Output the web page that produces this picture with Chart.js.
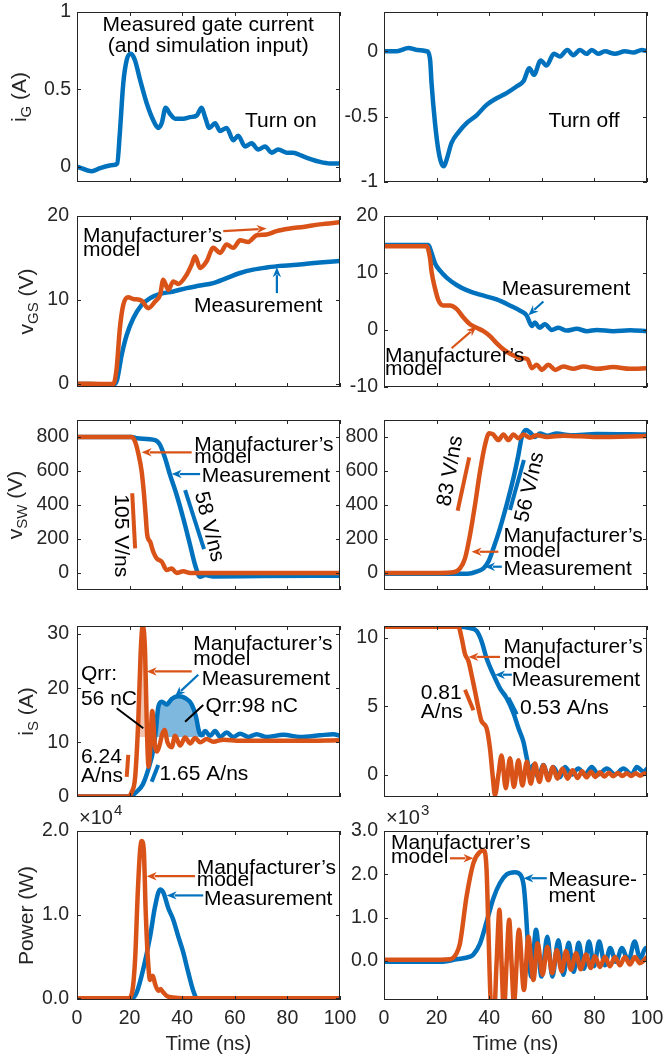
<!DOCTYPE html>
<html><head><meta charset="utf-8">
<script src="https://cdn.jsdelivr.net/npm/chart.js@4/dist/chart.umd.min.js"></script>
<style>
html,body{margin:0;padding:0;background:#fff;width:665px;height:1057px;overflow:hidden;position:relative}
canvas{position:absolute;left:-50px;top:-50px}
</style></head><body>
<script>
// ---------------- DATA (time in ns) ----------------
const X_TICKS = [0, 20, 40, 60, 80, 100];

// Row 1: gate current
const t_iG_on = [0, 5.6, 8.8, 13.8, 15.3, 16.3, 17.6, 18.9, 20.5, 22, 24, 26.5, 29, 30.9, 32.2, 33.7, 35.4, 37.3, 40.4, 43, 45.5, 47.4, 48.7, 50.3, 52.5, 54.4, 56.9, 59.4, 61.3, 63.9, 66.4, 68.9, 71.5, 74, 76.5, 79.7, 82.2, 85.4, 88.6, 92.4, 96.2, 100];
const iG_on = [0, -0.03, -0.01, 0.01, 0.02, 0.22, 0.54, 0.69, 0.73, 0.69, 0.56, 0.41, 0.30, 0.25, 0.28, 0.38, 0.34, 0.31, 0.31, 0.32, 0.33, 0.38, 0.32, 0.25, 0.28, 0.23, 0.25, 0.17, 0.20, 0.13, 0.15, 0.11, 0.13, 0.09, 0.11, 0.09, 0.09, 0.07, 0.05, 0.03, 0.02, 0.02];
const t_iG_off = [0, 4.9, 9.3, 12.5, 16.2, 17.5, 18.1, 19.4, 20.7, 21.9, 22.8, 23.8, 25.7, 28.3, 31.4, 35.2, 39, 42.8, 46.6, 50.4, 53, 55.3, 57, 59.6, 61.8, 64.6, 66.9, 69.7, 72, 74.5, 77, 79, 81.5, 84, 87.8, 91.6, 94.8, 98, 100];
const iG_off = [0, 0, 0.025, 0.01, 0, -0.06, -0.25, -0.55, -0.76, -0.86, -0.88, -0.83, -0.70, -0.62, -0.55, -0.49, -0.41, -0.36, -0.32, -0.27, -0.23, -0.13, -0.18, -0.07, -0.11, -0.02, -0.04, 0.01, -0.03, 0.01, -0.02, 0.01, -0.02, 0, -0.02, 0, -0.01, 0.01, 0];

// Row 2: gate-source voltage
const t_vGS_on_meas = [0, 13.8, 15.1, 17, 18.9, 21.4, 24.6, 27.8, 31.6, 36.6, 41.7, 46.8, 51.8, 56.9, 62, 67, 72.1, 77.2, 82.2, 87.3, 92.3, 100];
const vGS_on_meas = [0, -0.1, 0.3, 3.45, 5.8, 7.8, 9.4, 10.2, 10.7, 11.0, 11.4, 11.7, 12.0, 12.6, 13.2, 13.6, 13.85, 14.05, 14.15, 14.3, 14.45, 14.64];
const t_vGS_on_model = [0, 13.8, 15.1, 16.3, 17.6, 19.5, 21.4, 24.6, 27.1, 29.7, 31.6, 32.8, 34.7, 36.6, 38.5, 41.7, 43.6, 44.9, 46.8, 49.3, 51.8, 54.4, 56.9, 59.4, 62, 65.1, 68.3, 72.1, 75.9, 81, 86, 92.3, 100];
const vGS_on_model = [0, -0.05, 1.9, 6.6, 9.4, 10.3, 10.1, 9.9, 9.0, 9.8, 10.6, 12.4, 11.2, 12.2, 11.9, 13.0, 14.2, 15.2, 13.8, 14.6, 16.2, 15.6, 16.6, 16.2, 17.1, 16.9, 17.7, 17.8, 18.2, 18.5, 18.7, 19.0, 19.25];
const t_vGS_off_meas = [0, 16.9, 18.1, 19.4, 21.3, 23.8, 27.6, 31.4, 36.5, 42.8, 47.9, 51.7, 54.3, 56.2, 57.4, 59.1, 61.2, 63.8, 66.3, 69.5, 73.3, 77.1, 80.9, 87.2, 93.6, 100];
const vGS_off_meas = [14.9, 14.9, 13.5, 11.7, 10.4, 9.2, 7.9, 7.0, 6.2, 5.36, 4.3, 3.4, 2.5, 0.7, 1.3, 0.4, 1.0, 0.0, 0.4, -0.1, 0.2, -0.2, 0.0, -0.2, -0.05, -0.2];
const t_vGS_off_model = [0, 16.2, 17.5, 18.1, 19.4, 20.7, 22.5, 25.1, 27.6, 30.2, 32.7, 35.2, 37.8, 40.3, 42.8, 45.4, 48.5, 51.7, 54.5, 56.2, 58.1, 60, 62.5, 65.1, 68.2, 72, 75.8, 80.9, 87.2, 93.6, 100];
const vGS_off_model = [14.7, 14.7, 12.6, 10.2, 7.3, 5.2, 4.3, 4.3, 3.7, 2.2, 1.0, 0.4, -0.2, -1.07, -2.3, -3.4, -4.3, -4.9, -5.1, -6.7, -6.1, -7.0, -6.1, -7.0, -6.4, -6.8, -6.4, -6.8, -6.5, -6.8, -6.7];

// Row 3: switch-node voltage
const t_vSW_on_meas = [0, 20.8, 22.9, 29.7, 31.6, 33.5, 35.4, 37.9, 40.4, 43, 44.9, 46.8, 48.7, 51.8, 70, 100];
const vSW_on_meas = [800, 800, 792, 782, 753, 675, 576, 459, 322, 165, 47, -22, -12, -20, -18, -16];
const t_vSW_on_model = [0, 20.8, 22.1, 23.3, 24.6, 25.5, 26.1, 26.7, 27.8, 29, 30.3, 32.2, 34.1, 36, 37.9, 40.4, 43, 100];
const vSW_on_model = [800, 800, 772, 704, 596, 459, 341, 224, 184, 125, 86, 67, 18, 27, 0, 10, 0, 0];
const t_vSW_off_meas = [0, 31.9, 35.2, 37.8, 39.7, 41.6, 44.1, 46.6, 49.2, 51.1, 52.4, 54, 55.5, 57.4, 59.3, 61.9, 65.7, 70.8, 80.9, 100];
const vSW_off_meas = [-4, -4, 8, 27, 67, 145, 263, 400, 557, 694, 800, 841, 827, 800, 820, 808, 820, 810, 818, 814];
const t_vSW_off_model = [0, 21.3, 26.4, 28.9, 30.8, 32.7, 34.6, 36.5, 38.4, 40, 41.5, 43.5, 45.4, 47.3, 49.2, 51.1, 53, 55.5, 58.1, 61.9, 68.2, 80.9, 100];
const vSW_off_model = [0, 0, 4, 27, 86, 224, 400, 596, 753, 822, 815, 782, 815, 782, 815, 792, 815, 796, 810, 800, 808, 800, 806];

// Row 4: source current
const t_iS_on_meas = [0, 19, 21, 23, 25, 27.1, 29, 30, 30.9, 32.2, 34.1, 36, 38.5, 41.1, 43.6, 45.2, 46.5, 47.4, 48.7, 50.6, 52.5, 54.4, 56.9, 59.5, 62, 65.2, 68.3, 72.1, 78.5, 84.8, 92.4, 97.5, 100];
const iS_on_meas = [0, 0, 0.2, 1.0, 2.2, 5.0, 8.6, 12.3, 16.5, 17.5, 17.0, 18.0, 18.5, 18.2, 17.0, 14.8, 11.8, 11.3, 12.1, 11.2, 12.1, 11.0, 11.8, 11.0, 11.6, 11.0, 11.5, 11.0, 11.4, 11.0, 11.3, 11.5, 11.2];
const t_iS_on_model = [0, 19.5, 20.8, 22.1, 23.3, 24.2, 25, 25.9, 26.5, 27.2, 27.8, 28.6, 29.6, 30.4, 31.4, 32.4, 33.3, 34.4, 36, 37.3, 39.2, 41.1, 43, 44.9, 46.8, 49.3, 51.8, 55.6, 62, 72, 85, 100];
const iS_on_model = [0, 0, 0.8, 3.5, 14, 26.5, 31.6, 26.5, 14, 5.5, 8.5, 15.8, 9.5, 8.3, 9.5, 11.5, 12.3, 10.0, 9.1, 11.2, 9.4, 10.9, 9.8, 10.8, 10.0, 10.6, 10.1, 10.5, 10.3, 10.3, 10.3, 10.4];
const t_iS_off_meas = [0, 27.6, 32.7, 35.2, 37.1, 39, 41.6, 44.1, 46.6, 49.2, 51.1, 53, 54.3, 55.5, 56.8, 58.7, 60.6, 62.5, 64.4, 66.9, 68.8, 71.3, 73.9, 76.4, 79, 81.5, 84.7, 87.9, 91, 94.2, 96.1, 98.7, 100];
const iS_off_meas = [10.8, 10.8, 10.7, 10.5, 9.75, 8.5, 7.3, 6.3, 5.6, 4.5, 3.4, 2.4, 1.2, 0.2, 0.7, -0.2, 0.7, -0.2, 0.56, -0.2, 0.56, 0, 0.44, 0, 0.56, 0, 0.44, 0, 0.44, 0, 0.56, 0.2, 0.44];
const t_iS_off_model = [0, 28.3, 29.5, 30.8, 32.1, 33.3, 34.6, 35.9, 37.1, 39, 40.3, 41.3, 42.2, 43.5, 44.7, 46.3, 47.9, 49.4, 51.1, 52.6, 54.3, 55.8, 57.4, 59.1, 60.6, 62.5, 64.2, 65.9, 67.9, 69.8, 71.7, 73.6, 75.3, 77, 78.7, 80.4, 82.1, 83.8, 85.5, 87.2, 88.9, 90.6, 92.3, 94, 95.7, 97.4, 99.1, 100];
const iS_off_model = [10.8, 10.8, 10.0, 8.8, 8.3, 7.3, 6.1, 4.85, 3.9, 3.4, 1.9, -0.05, -1.5, 0, 1.4, -1.0, 1.2, -0.9, 1.05, -0.8, 0.93, -0.66, 0.8, -0.54, 0.69, -0.42, 0.56, -0.3, 0.44, -0.3, 0.32, -0.25, 0.25, -0.2, 0.2, -0.18, 0.17, -0.15, 0.14, -0.13, 0.12, -0.11, 0.1, -0.1, 0.09, -0.08, 0.07, 0.02];

// Row 5: power (x1e4 W turn-on, x1e3 W turn-off)
const t_P_on_meas = [0, 20.8, 22.7, 25.2, 27.8, 29.7, 31.6, 32.9, 34.7, 36.6, 38.5, 40.4, 42.3, 44.2, 45.7, 46.8, 49.3, 60, 100];
const P_on_meas = [0, 0, 0.07, 0.35, 0.74, 1.1, 1.3, 1.26, 1.08, 0.94, 0.74, 0.55, 0.31, 0.09, -0.02, -0.04, -0.02, -0.01, -0.01];
const t_P_on_model = [0, 19.5, 20.8, 22.1, 23.1, 24, 24.6, 25.4, 26.1, 26.9, 27.8, 28.8, 29.7, 30.9, 31.8, 32.6, 34.1, 36.6, 40, 100];
const P_on_model = [0, 0, 0.05, 0.47, 1.26, 1.77, 1.88, 1.77, 1.06, 0.5, 0.22, 0.27, 0.17, 0.09, 0.11, 0.08, 0.03, 0.01, 0, 0];
const t_P_off_meas = [0, 21.3, 27.6, 32.7, 34, 36.5, 39, 41.6, 44.1, 46.7, 49.8, 52, 53.2, 54, 54.6, 55.5, 56, 57.8, 59.9, 62.1, 64, 66.3, 68.2, 70.2, 72.1, 74, 76, 77.9, 79.9, 81.8, 84, 86, 88.2, 90.5, 92.9, 95.3, 97.4, 99.5, 100];
const P_off_meas = [-0.02, -0.02, 0.04, 0.1, 0.15, 0.4, 0.9, 1.45, 1.8, 2.0, 2.05, 1.98, 1.7, 1.1, 0.48, -0.2, -0.36, 0.72, -0.36, 0.56, -0.36, 0.48, -0.32, 0.42, -0.25, 0.42, -0.18, 0.45, -0.12, 0.45, -0.1, 0.3, -0.02, 0.3, 0.0, 0.45, 0.05, 0.3, 0.28];
const t_P_off_model = [0, 21.3, 25.1, 27.6, 28.9, 31.4, 34, 36.5, 38, 39, 39.7, 40.6, 41.8, 42.8, 43.9, 44.7, 45.6, 46.6, 47.6, 48.5, 49.4, 51.3, 53.2, 54.9, 56.8, 58.4, 60.3, 62.1, 64, 65.7, 67.6, 69.2, 71.1, 73, 74.8, 76.8, 78.6, 80.2, 82.1, 84, 85.9, 87.8, 89.7, 91.6, 93.5, 95.4, 97.3, 100];
const P_off_model = [0.03, 0.03, 0.04, 0.18, 0.41, 1.49, 2.26, 2.52, 2.55, 2.1, 0.72, -0.97, -1.3, -0.05, 1.18, -0.05, -1.2, -0.05, 0.95, -0.05, -0.97, 0.72, -0.67, 0.56, -0.44, 0.41, -0.32, 0.33, -0.28, 0.25, -0.24, 0.23, -0.2, 0.18, -0.19, 0.15, -0.16, 0.11, -0.14, 0.1, -0.12, 0.09, -0.1, 0.09, -0.08, 0.09, -0.05, 0.09];

// Tick values
const yTicks_iG_on = [0, 0.5, 1];
const yTicks_iG_off = [-1, -0.5, 0];
const yTicks_vGS_on = [0, 10, 20];
const yTicks_vGS_off = [-10, 0, 10, 20];
const yTicks_vSW = [0, 200, 400, 600, 800];
const yTicks_iS_on = [0, 10, 20, 30];
const yTicks_iS_off = [0, 5, 10];
const yTicks_P_on = [0, 1, 2];
const yTicks_P_off = [0, 1, 2, 3];

// ---------------- STYLE / LAYOUT ----------------
const CW = 765, CH = 1157, OFF = 50, YW = 60, TL = 4;
const FONT = "'Liberation Sans', Arial, Helvetica, sans-serif";
const BLUE = '#0072BD', ORANGE = '#D95319', AXIS = '#262626', TXT = '#000';
const COL_L = [77, 340], COL_R = [384, 647];
const ROWS = [[12, 182], [216, 387], [420, 590], [626, 797], [831, 1000]];
const MANU = 'Manufacturer\u2019s';
const plain = v => String(v);
const one = v => v.toFixed(1);

function pts(t, v) { return t.map((x, i) => ({x: x, y: v[i]})); }

const panels = [
  {col: COL_L, row: 0, ymin: -0.1, ymax: 1, yticks: yTicks_iG_on, fmt: plain, ypad: 6,
   series: [{t: t_iG_on, v: iG_on, c: BLUE}],
   ytitle: {parts: [{s: 'i'}, {s: 'G', sub: 1}, {s: ' (A)'}], d: 51},
   ann: {texts: [{t: 49.9, v: 0.88, s: 'Measured gate current', align: 'center'},
                 {t: 49.9, v: 0.744, s: '(and simulation input)', align: 'center'},
                 {t: 63.9, v: 0.256, s: 'Turn on'}]}},
  {col: COL_R, row: 0, ymin: -1, ymax: 0.3, yticks: yTicks_iG_off, fmt: plain, ypad: 6,
   series: [{t: t_iG_off, v: iG_off, c: BLUE}],
   ann: {texts: [{t: 62.5, v: -0.58, s: 'Turn off'}]}},
  {col: COL_L, row: 1, ymin: -0.4, ymax: 20, yticks: yTicks_vGS_on, fmt: plain, ypad: 8,
   series: [{t: t_vGS_on_model, v: vGS_on_model, c: ORANGE}, {t: t_vGS_on_meas, v: vGS_on_meas, c: BLUE}],
   ytitle: {parts: [{s: 'v'}, {s: 'GS', sub: 1}, {s: ' (V)'}], d: 44},
   ann: {texts: [{t: 2.3, v: 16.9, s: MANU}, {t: 2.3, v: 15.2, s: 'model'}, {t: 44.5, v: 8.6, s: 'Measurement'}],
         arrows: [{a: [55.6, 18.2], b: [72.1, 18.5], c: ORANGE}, {a: [76, 10.8], b: [76, 13.9], c: BLUE}]}},
  {col: COL_R, row: 1, ymin: -10, ymax: 20, yticks: yTicks_vGS_off, fmt: plain, ypad: 6,
   series: [{t: t_vGS_off_model, v: vGS_off_model, c: ORANGE}, {t: t_vGS_off_meas, v: vGS_off_meas, c: BLUE}],
   ann: {texts: [{t: 44.8, v: 6.1, s: 'Measurement'}, {t: 0.4, v: -5.6, s: MANU}, {t: 0.4, v: -7.9, s: 'model'}],
         arrows: [{a: [60.6, 5.0], b: [54.9, 2.6], c: BLUE}, {a: [25.7, -3.2], b: [35.2, 0.6], c: ORANGE}]}},
  {col: COL_L, row: 2, ymin: -100, ymax: 900, yticks: yTicks_vSW, fmt: plain, ypad: 8,
   series: [{t: t_vSW_on_model, v: vSW_on_model, c: ORANGE}, {t: t_vSW_on_meas, v: vSW_on_meas, c: BLUE}],
   ytitle: {parts: [{s: 'v'}, {s: 'SW', sub: 1}, {s: ' (V)'}], d: 55},
   ann: {texts: [{t: 44.6, v: 718, s: MANU}, {t: 44.6, v: 645, s: 'model'}, {t: 47.4, v: 534, s: 'Measurement'},
                 {t: 16.6, v: 219, s: '105 V/ns', rot: 90}, {t: 50.2, v: 272, s: '58 V/ns', rot: 76}],
         arrows: [{a: [43.6, 710], b: [24.6, 710], c: ORANGE}, {a: [46.8, 582], b: [36, 582], c: BLUE}],
         segs: [{a: [21, 469], b: [22.1, 145], c: ORANGE}, {a: [41.1, 488], b: [48.3, 141], c: BLUE}]}},
  {col: COL_R, row: 2, ymin: -100, ymax: 900, yticks: yTicks_vSW, fmt: plain, ypad: 6,
   series: [{t: t_vSW_off_model, v: vSW_off_model, c: ORANGE}, {t: t_vSW_off_meas, v: vSW_off_meas, c: BLUE}],
   ann: {texts: [{t: 25.3, v: 600, s: '83 V/ns', rot: -80}, {t: 55.5, v: 505, s: '56 V/ns', rot: -77},
                 {t: 45.4, v: 184, s: MANU}, {t: 45.4, v: 96, s: 'model'}, {t: 45.4, v: -12, s: 'Measurement'}],
         arrows: [{a: [43.5, 125], b: [33.3, 125], c: ORANGE}, {a: [44.8, 37], b: [38.4, 37], c: BLUE}],
         segs: [{a: [28, 366], b: [32.4, 680], c: ORANGE}, {a: [47.9, 371], b: [53.2, 665], c: BLUE}]}},
  {col: COL_L, row: 3, ymin: -0.1, ymax: 31.5, yticks: yTicks_iS_on, fmt: plain, ypad: 8,
   series: [{t: t_iS_on_model, v: iS_on_model, c: ORANGE}, {t: t_iS_on_meas, v: iS_on_meas, c: BLUE}],
   fills: [{t: t_iS_on_model, v: iS_on_model, range: [22.1, 36], base: 11, color: 'rgba(217,83,25,0.35)'},
           {t: t_iS_on_meas, v: iS_on_meas, range: [29, 48.7], base: 11, color: 'rgba(0,114,189,0.5)'}],
   ytitle: {parts: [{s: 'i'}, {s: 'S', sub: 1}, {s: ' (A)'}], d: 44},
   ann: {texts: [{t: 44.2, v: 27.1, s: MANU}, {t: 44.2, v: 24.3, s: 'model'}, {t: 47.4, v: 20.6, s: 'Measurement'},
                 {t: 48.9, v: 15.6, s: 'Qrr:98 nC'}, {t: 1.5, v: 21.5, s: 'Qrr:'}, {t: 1.5, v: 16.9, s: '56 nC'},
                 {t: 1.5, v: 6.1, s: '6.24'}, {t: 1.5, v: 2.7, s: 'A/ns'}, {t: 31.4, v: 3.1, s: '1.65 A/ns'}],
         arrows: [{a: [43.6, 23.1], b: [26.5, 23.1], c: ORANGE}, {a: [46.1, 22.5], b: [37.3, 18.5], c: BLUE}],
         segs: [{a: [48, 16.9], b: [41.1, 13.8], c: TXT, w: 2}, {a: [15.1, 16.3], b: [25.2, 12.6], c: TXT, w: 2},
                {a: [19.5, 7.7], b: [18.9, 3.6], c: ORANGE}, {a: [30.9, 5.8], b: [28.4, 2.7], c: BLUE}]}},
  {col: COL_R, row: 3, ymin: -1.64, ymax: 10.86, yticks: yTicks_iS_off, fmt: plain, ypad: 6,
   series: [{t: t_iS_off_model, v: iS_off_model, c: ORANGE}, {t: t_iS_off_meas, v: iS_off_meas, c: BLUE}],
   ann: {texts: [{t: 45.4, v: 8.9, s: MANU}, {t: 45.4, v: 7.8, s: 'model'}, {t: 48.6, v: 6.5, s: 'Measurement'},
                 {t: 14, v: 5.5, s: '0.81'}, {t: 14, v: 4.1, s: 'A/ns'}, {t: 51.7, v: 4.4, s: '0.53 A/ns'}],
         arrows: [{a: [44.1, 8.6], b: [32.1, 8.6], c: ORANGE}, {a: [48.6, 7.3], b: [42.2, 7.3], c: BLUE}],
         segs: [{a: [30.8, 6.2], b: [34, 4.7], c: ORANGE}, {a: [47.3, 5.6], b: [50.5, 4.4], c: BLUE}]}},
  {col: COL_L, row: 4, ymin: -0.02, ymax: 2, yticks: yTicks_P_on, fmt: one, ypad: 8, xlabels: true, exp: '4',
   series: [{t: t_P_on_model, v: P_on_model, c: ORANGE}, {t: t_P_on_meas, v: P_on_meas, c: BLUE}],
   ytitle: {parts: [{s: 'Power (W)'}], d: 44},
   ann: {texts: [{t: 45.5, v: 1.49, s: MANU}, {t: 45.5, v: 1.34, s: 'model'}, {t: 48.3, v: 1.12, s: 'Measurement'}],
         arrows: [{a: [44.9, 1.46], b: [26.5, 1.46], c: ORANGE}, {a: [48, 1.23], b: [34.1, 1.23], c: BLUE}]}},
  {col: COL_R, row: 4, ymin: -0.9, ymax: 3, yticks: yTicks_P_off, fmt: one, ypad: 6, xlabels: true, exp: '3',
   series: [{t: t_P_off_model, v: P_off_model, c: ORANGE}, {t: t_P_off_meas, v: P_off_meas, c: BLUE}],
   ann: {texts: [{t: 2.7, v: 2.58, s: MANU}, {t: 2.7, v: 2.26, s: 'model'}, {t: 62.5, v: 1.72, s: 'Measure-'}, {t: 62.5, v: 1.37, s: 'ment'}],
         arrows: [{a: [25.1, 2.37], b: [34, 2.37], c: ORANGE}, {a: [61.9, 1.91], b: [53, 1.91], c: BLUE}]}}
];

function drawArrow(ctx, x1, y1, x2, y2, color) {
  const ang = Math.atan2(y2 - y1, x2 - x1), hl = 10, hw = 4.2;
  const c = Math.cos(ang), s = Math.sin(ang);
  ctx.strokeStyle = color; ctx.fillStyle = color; ctx.lineWidth = 2.2; ctx.lineCap = 'butt';
  ctx.beginPath(); ctx.moveTo(x1, y1); ctx.lineTo(x2 - hl * 0.8 * c, y2 - hl * 0.8 * s); ctx.stroke();
  ctx.beginPath(); ctx.moveTo(x2, y2);
  ctx.lineTo(x2 - hl * c + hw * s, y2 - hl * s - hw * c);
  ctx.lineTo(x2 - hl * 0.7 * c, y2 - hl * 0.7 * s);
  ctx.lineTo(x2 - hl * c - hw * s, y2 - hl * s + hw * c);
  ctx.closePath(); ctx.fill();
}

function makeDeco(p) {
  return {
    id: 'deco',
    afterDatasetsDraw(chart) {
      const ctx = chart.ctx, a = chart.chartArea, xs = chart.scales.x, ys = chart.scales.y;
      const P = (t, v) => [xs.getPixelForValue(t), ys.getPixelForValue(v)];
      ctx.save();
      // box + inward ticks
      ctx.strokeStyle = AXIS; ctx.lineWidth = 1;
      const L = Math.round(a.left), T = Math.round(a.top), R = Math.round(a.right), B = Math.round(a.bottom);
      ctx.strokeRect(L + 0.5, T + 0.5, R - L - 1, B - T - 1);
      ctx.beginPath();
      xs.ticks.forEach(tk => { const px = Math.round(xs.getPixelForValue(tk.value)) + 0.5;
        ctx.moveTo(px, B); ctx.lineTo(px, B - TL); ctx.moveTo(px, T); ctx.lineTo(px, T + TL); });
      ys.ticks.forEach(tk => { const py = Math.round(ys.getPixelForValue(tk.value)) + 0.5;
        ctx.moveTo(L, py); ctx.lineTo(L + TL, py); ctx.moveTo(R, py); ctx.lineTo(R - TL, py); });
      ctx.stroke();
      const ann = p.ann || {};
      (ann.segs || []).forEach(sg => {
        const [x1, y1] = P(sg.a[0], sg.a[1]), [x2, y2] = P(sg.b[0], sg.b[1]);
        ctx.strokeStyle = sg.c; ctx.lineWidth = sg.w || 4; ctx.lineCap = 'butt';
        ctx.beginPath(); ctx.moveTo(x1, y1); ctx.lineTo(x2, y2); ctx.stroke();
      });
      (ann.arrows || []).forEach(ar => {
        const [x1, y1] = P(ar.a[0], ar.a[1]), [x2, y2] = P(ar.b[0], ar.b[1]);
        drawArrow(ctx, x1, y1, x2, y2, ar.c);
      });
      ctx.fillStyle = TXT;
      (ann.texts || []).forEach(tx => {
        const [px, py] = P(tx.t, tx.v);
        ctx.font = '21px ' + FONT;
        if (tx.rot) {
          ctx.save(); ctx.translate(px, py); ctx.rotate(tx.rot * Math.PI / 180);
          ctx.textAlign = 'center'; ctx.textBaseline = 'middle'; ctx.fillText(tx.s, 0, 0); ctx.restore();
        } else {
          ctx.textAlign = tx.align || 'left'; ctx.textBaseline = 'alphabetic'; ctx.fillText(tx.s, px, py);
        }
      });
      // y title
      if (p.ytitle) {
        ctx.save(); ctx.translate(a.left - p.ytitle.d, (a.top + a.bottom) / 2); ctx.rotate(-Math.PI / 2);
        let w = 0;
        const parts = p.ytitle.parts.map(q => { ctx.font = (q.sub ? '15px ' : '21px ') + FONT; const pw = ctx.measureText(q.s).width; w += pw; return {s: q.s, sub: q.sub, pw: pw}; });
        let cx = -w / 2; ctx.fillStyle = AXIS; ctx.textAlign = 'left'; ctx.textBaseline = 'alphabetic';
        parts.forEach(q => { ctx.font = (q.sub ? '15px ' : '21px ') + FONT; ctx.fillText(q.s, cx, q.sub ? 5 : 0); cx += q.pw; });
        ctx.restore();
      }
      if (p.xlabels) {
        ctx.fillStyle = AXIS; ctx.font = '20.5px ' + FONT; ctx.textAlign = 'center'; ctx.textBaseline = 'alphabetic';
        ctx.fillText('Time (ns)', (a.left + a.right) / 2, a.bottom + 50);
      }
      if (p.exp) {
        ctx.fillStyle = AXIS; ctx.font = '20px ' + FONT; ctx.textAlign = 'left'; ctx.textBaseline = 'alphabetic';
        const bx = a.left + 2, by = a.top - 7;
        ctx.fillText('\u00d710', bx, by);
        const w = ctx.measureText('\u00d710').width;
        ctx.font = '15px ' + FONT; ctx.fillText(p.exp, bx + w + 1, by - 9);
      }
      ctx.restore();
    }
  };
}

panels.forEach(p => {
  const cv = document.createElement('canvas');
  cv.width = CW; cv.height = CH; document.body.appendChild(cv);
  const [L, R] = p.col, [T, B] = ROWS[p.row];
  const xh = p.xlabels ? 30 : 0;
  const datasets = [];
  p.series.forEach(s => datasets.push({data: pts(s.t, s.v), borderColor: s.c, borderWidth: 4.5, pointRadius: 0,
    fill: false, cubicInterpolationMode: 'monotone', borderJoinStyle: 'round', borderCapStyle: 'round'}));
  (p.fills || []).forEach(f => datasets.push({
    data: pts(f.t, f.v).filter(q => q.x >= f.range[0] && q.x <= f.range[1]),
    borderWidth: 0, borderColor: 'rgba(0,0,0,0)', pointRadius: 0, cubicInterpolationMode: 'monotone',
    fill: {target: {value: f.base}, above: f.color, below: 'rgba(0,0,0,0)'}}));
  new Chart(cv, {
    type: 'line',
    data: {datasets: datasets},
    options: {
      responsive: false, animation: false, events: [],
      layout: {padding: {left: L + OFF - YW, top: T + OFF, right: CW - (R + OFF), bottom: CH - (B + OFF) - xh}},
      plugins: {legend: {display: false}, tooltip: {enabled: false}},
      scales: {
        x: {type: 'linear', min: 0, max: 100,
            grid: {display: false, drawTicks: false}, border: {display: false},
            afterBuildTicks: s => { s.ticks = X_TICKS.map(v => ({value: v})); },
            afterFit: s => { s.height = xh; },
            ticks: {display: !!p.xlabels, autoSkip: false, maxRotation: 0, padding: 7,
                    font: {family: FONT, size: 19.5}, color: AXIS, callback: v => String(v)}},
        y: {type: 'linear', min: p.ymin, max: p.ymax,
            grid: {display: false, drawTicks: false}, border: {display: false},
            afterBuildTicks: s => { s.ticks = p.yticks.map(v => ({value: v})); },
            afterFit: s => { s.width = YW; },
            ticks: {autoSkip: false, padding: p.ypad, font: {family: FONT, size: 19.5}, color: AXIS, callback: p.fmt}}
      }
    },
    plugins: [makeDeco(p)]
  });
});
</script>
</body></html>
